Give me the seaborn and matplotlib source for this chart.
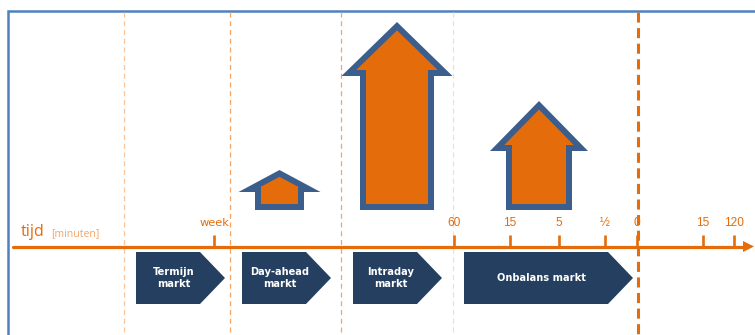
import matplotlib
matplotlib.use("Agg")
import matplotlib.pyplot as plt
from matplotlib.patches import Polygon
import numpy as np
import seaborn as sns
import pandas as pd

# ---------------- data ----------------
markets = ["Termijn\nmarkt", "Day-ahead\nmarkt", "Intraday\nmarkt", "Onbalans markt"]
arrow_height = [0, 40, 188, 109]          # relative size of the trading arrow above each market
tick_labels = ["week", "60", "15", "5", "½", "0", "15", "120"]
axis_title = "tijd"
axis_unit = "[minuten]"

# ---------------- layout (pixel space) ----------------
W, H = 755, 335
tick_x = [214, 454, 510, 559, 605, 637, 703, 734]
chevron_x = [(136, 200, 225), (242, 306, 331), (353, 417, 442), (464, 608, 633)]
arrow_geom = [None, (279.5, 82, 49, 22), (397, 111, 74, 54), (539, 98, 66, 50)]  # cx, head w, shaft w, head h
divider_x = [124, 230, 341, 453]
divider_col = ["#F9C49A", "#F4A464", "#F4A464", "#FBDCC4"]

ORANGE = "#E46C0A"
NAVY = "#243F60"
ARROW_EDGE = "#3B5E8C"
FRAME = "#4F81BD"

sns.set_theme(style="white")
plt.rcParams["font.family"] = ["DejaVu Sans"]


def inset(pts, d):
    """Offset a (clockwise on screen) polygon inward by d pixels."""
    P = np.asarray(pts, float)
    n = len(P)
    # signed area to determine orientation
    area = 0.5 * np.sum(P[:, 0] * np.roll(P[:, 1], -1) - np.roll(P[:, 0], -1) * P[:, 1])
    sgn = 1.0 if area > 0 else -1.0
    lines = []
    for i in range(n):
        a, b = P[i], P[(i + 1) % n]
        t = (b - a) / np.linalg.norm(b - a)
        nrm = sgn * np.array([-t[1], t[0]])
        lines.append((a + nrm * d, t))
    out = []
    for i in range(n):
        p1, t1 = lines[i - 1]
        p2, t2 = lines[i]
        A = np.array([t1, -t2]).T
        s = np.linalg.solve(A, p2 - p1)
        out.append(p1 + t1 * s[0])
    return np.array(out)


fig = plt.figure(figsize=(W / 100, H / 100), dpi=100)
ax = fig.add_axes([0, 0, 1, 1])
ax.set_xlim(0, W)
ax.set_ylim(H, 0)
ax.axis("off")

# frame
ax.plot([8, 8, W], [H, 11, 11], color=FRAME, lw=1.8, solid_joinstyle="miter", zorder=1)

# dividers
for x, c in zip(divider_x, divider_col):
    ax.plot([x, x], [12, H], color=c, lw=0.9, ls=(0, (4, 3)), zorder=1)
ax.plot([638, 638], [12, H], color=ORANGE, lw=2.2, ls=(0, (3.3, 1.8)), zorder=2)

# timeline
y_axis = 246.5
line_df = pd.DataFrame({"x": [13, 745], "y": [y_axis, y_axis]})
sns.lineplot(data=line_df, x="x", y="y", color=ORANGE, lw=2.3, ax=ax, zorder=3)
ax.add_patch(Polygon([[743, y_axis - 5.5], [754, y_axis], [743, y_axis + 5.5]],
                     closed=True, facecolor=ORANGE, edgecolor="none", zorder=3))
ax.vlines(tick_x, 234.5, y_axis, color=ORANGE, lw=1.9, zorder=3)
for x, lab in zip(tick_x, tick_labels):
    if lab.isdigit() or lab == "½":
        ax.text(x, 223, lab, color=ORANGE, fontsize=8.6, ha="center", va="center",
                family="Liberation Sans", zorder=4)
    else:
        ax.text(x, 222.5, lab, color=ORANGE, fontsize=8.2, ha="center", va="center",
                family="DejaVu Sans", zorder=4)

ax.text(21, 236, axis_title, color=ORANGE, fontsize=11.5, ha="left", va="baseline",
        family="Open Sans", zorder=4)
ax.text(51, 236, axis_unit, color="#F3A66A", fontsize=7.6, ha="left", va="baseline",
        family="Open Sans", zorder=4)

# market chevrons
top, bot = 252, 304
mid = (top + bot) / 2
for (l, s, p), name in zip(chevron_x, markets):
    ax.add_patch(Polygon([[l, top], [s, top], [p, mid], [s, bot], [l, bot]],
                         closed=True, facecolor=NAVY, edgecolor="none", zorder=3))
    ax.text((l + s) / 2 + 5.5, mid, name, color="white", fontsize=7.1, fontweight="bold",
            ha="center", va="center", linespacing=1.3, zorder=4)

# arrows
base = 210
border = 6
for g, h in zip(arrow_geom, arrow_height):
    if g is None or h <= 0:
        continue
    cx, hw, sw, hh = g
    tip = base - h
    hb = tip + hh
    outer = [
        [cx - sw / 2, base],
        [cx - sw / 2, hb],
        [cx - hw / 2, hb],
        [cx, tip],
        [cx + hw / 2, hb],
        [cx + sw / 2, hb],
        [cx + sw / 2, base],
    ]
    ax.add_patch(Polygon(outer, closed=True, facecolor=ARROW_EDGE, edgecolor="none", zorder=3))
    ax.add_patch(Polygon(inset(outer, border), closed=True, facecolor=ORANGE,
                         edgecolor="none", zorder=4))

fig.savefig("out.png", dpi=100)
